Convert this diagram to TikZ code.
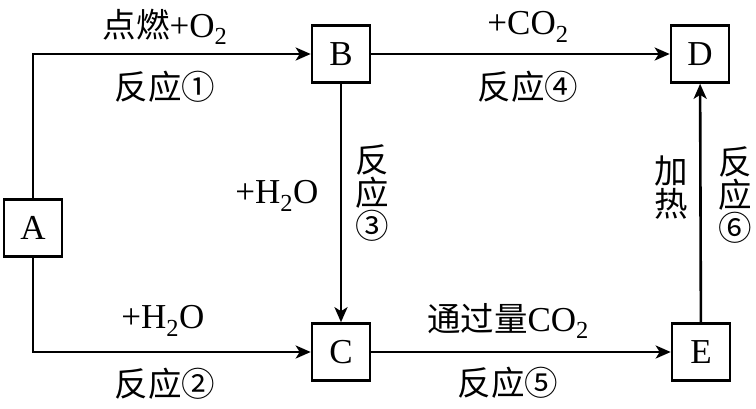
\documentclass[tikz,border=0pt]{standalone}
\usepackage{fontspec}
\setmainfont{Liberation Serif}
\newfontfamily\cjk{Noto Sans CJK SC}
\usetikzlibrary{arrows.meta}

\tikzset{
  box/.style={draw, line width=2.6pt, minimum width=58pt, minimum height=57pt, inner sep=0pt},
  conn/.style={line width=2.6pt, -{Stealth[length=15pt, width=13pt, inset=4pt]}},
  lbl/.style={inner sep=0pt, align=center},
  vlbl/.style={lbl, font=\cjk\fontsize{33.5}{33}\selectfont}
}

\begin{document}
\begin{tikzpicture}[x=1pt, y=-1pt, font=\fontsize{35}{33}\selectfont]
  \useasboundingbox (0,0) rectangle (756,408);
  % boxes
  \node[box] (A) at (33,228) {A};
  \node[box] (B) at (341,54) {B};
  \node[box] (C) at (341,352) {C};
  \node[box] (D) at (700,54) {D};
  \node[box] (E) at (701,352) {E};
  % connectors
  \draw[conn] (A.north) |- (B.west);
  \draw[conn] (A.south) |- (C.west);
  \draw[conn] (B) -- (D);
  \draw[conn] (B) -- (C);
  \draw[conn] (C) -- (E);
  \draw[conn] (E) -- (D);
  % labels
  \node[lbl] (r1a) at (165,27) {{\cjk\fontsize{33.5}{33}\selectfont 点燃}+O\textsubscript{2}};
  \node[lbl] (r1b) at (165,87) {\cjk\fontsize{33.5}{33}\selectfont 反应①};
  \node[lbl] (r4a) at (528,27) {+CO\textsubscript{2}};
  \node[lbl] (r4b) at (528,87) {\cjk\fontsize{33.5}{33}\selectfont 反应④};
  \node[lbl] (r3a) at (277,196) {+H\textsubscript{2}O};
  \node[vlbl] (r3b) at (372,193) {反\\应\\③};
  \node[vlbl] (r6a) at (671,188) {加\\热};
  \node[vlbl] (r6b) at (735,195) {反\\应\\⑥};
  \node[lbl] (r2a) at (163,321) {+H\textsubscript{2}O};
  \node[lbl] (r2b) at (165,384) {\cjk\fontsize{33.5}{33}\selectfont 反应②};
  \node[lbl] (r5a) at (508,321) {{\cjk\fontsize{33.5}{33}\selectfont 通过量}CO\textsubscript{2}};
  \node[lbl] (r5b) at (508,383) {\cjk\fontsize{33.5}{33}\selectfont 反应⑤};
\end{tikzpicture}
\end{document}
